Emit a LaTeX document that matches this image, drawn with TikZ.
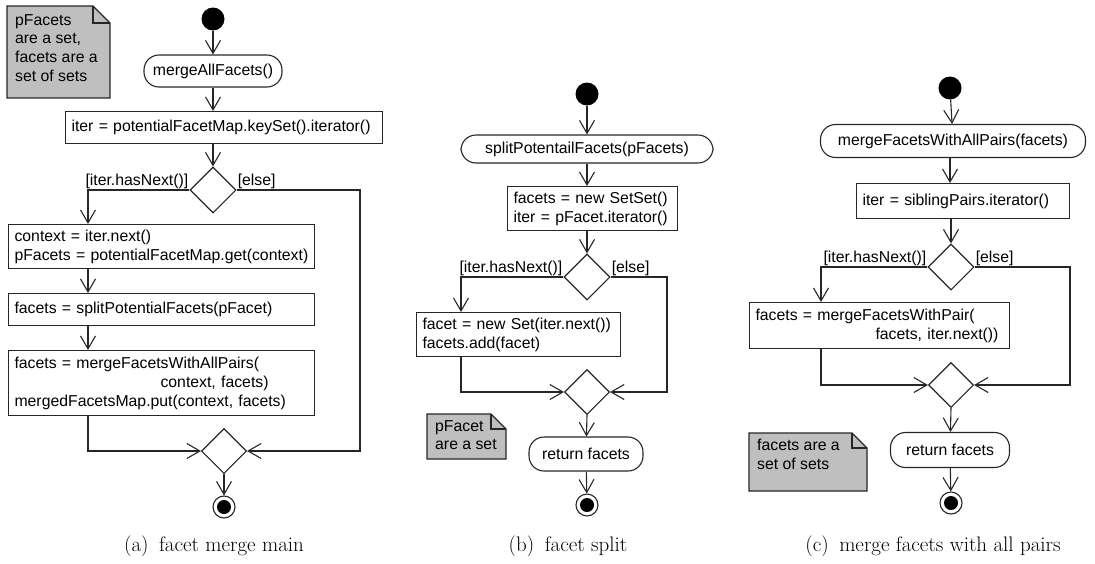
\documentclass[tikz,border=0pt]{standalone}
\usepackage{fontspec}
\newfontfamily\umlfont{Liberation Sans}
\usetikzlibrary{shapes.geometric,arrows.meta}

\begin{document}
\begin{tikzpicture}[x=1pt,y=-1pt,
	every node/.style={font=\umlfont\fontsize{15.8}{19}\selectfont},
	flow/.style={draw=black!85,line width=1.1pt,-{Straight Barb[length=13pt,width=15pt]}},
	box/.style={draw=black!85,line width=1.1pt,rectangle,anchor=north west,inner xsep=6pt,inner ysep=2pt,align=left},
	act/.style={draw=black!85,line width=1.1pt,rectangle,rounded corners=15pt,inner sep=0pt},
	choice/.style={draw=black!85,line width=1.1pt,diamond,minimum width=46pt,minimum height=46pt,inner sep=0pt},
	begin/.style={circle,fill=black,minimum size=23pt,inner sep=0pt},
	finish/.style={circle,draw=black!85,line width=1.1pt,minimum size=22pt,inner sep=0pt,
		path picture={\fill[black] (path picture bounding box.center) circle (7pt);}},
	guard/.style={inner sep=1pt},
	notebg/.style={draw=black!85,line width=1.1pt,fill=gray!50},
	notetext/.style={anchor=north west,align=left,inner sep=0pt,font=\umlfont\fontsize{15.8}{18.7}\selectfont},
	caption/.style={font=\fontsize{21}{24}\selectfont}]
	\useasboundingbox (0,0) rectangle (1095,563);

	% (a) main loop over all contexts
	\draw[notebg] (7,6) -- (93,6) -- (110,23) -- (110,98) -- (7,98) -- cycle;
	\draw[line width=1.1pt,draw=black!85] (93,6) |- (110,23);
	\node[notetext] (note_a) at (15,14) {pFacets\\are a set,\\facets are a\\set of sets};

	\node[begin] (start_a) at (213,19) {};
	\node[act,minimum width=138pt,minimum height=32pt] (act_a) at (213,71) {mergeAllFacets()};
	\node[box,text width=305pt,minimum height=32pt] (iter_a) at (65,111) {iter = potentialFacetMap.keySet().iterator()};
	\node[choice] (dec_a) at (213,190) {};
	\node[box,text width=294pt,minimum height=44pt] (ctx_a) at (8,224) {context = iter.next()\\pFacets = potentialFacetMap.get(context)};
	\node[box,text width=294pt,minimum height=32pt] (split_a) at (8,293) {facets = splitPotentialFacets(pFacet)};
	\node[box,text width=294pt,minimum height=65pt] (mfa_a) at (8,350) {facets = mergeFacetsWithAllPairs(\\\hspace*{146pt}context, facets)\\mergedFacetsMap.put(context, facets)};
	\node[choice,minimum width=45pt,minimum height=45pt] (merge_a) at (224,451) {};
	\node[finish] (end_a) at (224,507) {};
	\node[guard,anchor=south east] (yes_a) at (dec_a.west) {[iter.hasNext()]};
	\node[guard,anchor=south west] (no_a) at (dec_a.east) {[else]};
	\coordinate (la) at (88,0);
	\coordinate (ra) at (360,0);

	\draw[flow] (start_a) -- (act_a);
	\draw[flow] (act_a.south) -- (act_a.south |- iter_a.north);
	\draw[flow] (iter_a.south -| dec_a) -- (dec_a.north);
	\draw[flow] (dec_a.west) -| (la |- ctx_a.north);
	\draw[flow] (la |- ctx_a.south) -- (la |- split_a.north);
	\draw[flow] (la |- split_a.south) -- (la |- mfa_a.north);
	\draw[flow] (la |- mfa_a.south) |- (merge_a.west);
	\draw[flow] (dec_a.east) -| (ra |- merge_a.east) -- (merge_a.east);
	\draw[flow] (merge_a.south) -- (end_a);
	\node[caption] (cap_a) at (214,546) {(a)\enspace facet merge main};

	% (b) splitting the potential facets
	\draw[notebg] (427,414) -- (491,414) -- (506,429) -- (506,459) -- (427,459) -- cycle;
	\draw[line width=1.1pt,draw=black!85] (491,414) |- (506,429);
	\node[notetext] (note_b) at (435,420) {pFacet\\are a set};

	\node[begin] (start_b) at (587,94) {};
	\node[act,minimum width=252pt,minimum height=28pt] (act_b) at (587,149) {splitPotentailFacets(pFacets)};
	\node[box,text width=158pt,minimum height=44pt] (set_b) at (507,186) {facets = new SetSet()\\iter = pFacet.iterator()};
	\node[choice] (dec_b) at (587,277) {};
	\node[box,text width=192pt,minimum height=44pt] (fac_b) at (416,312) {facet = new Set(iter.next())\\facets.add(facet)};
	\node[choice,minimum width=45pt,minimum height=45pt] (merge_b) at (587,392) {};
	\node[act,minimum width=114pt,minimum height=34pt] (ret_b) at (586,454) {return facets};
	\node[finish] (end_b) at (587,505) {};
	\node[guard,anchor=south east] (yes_b) at (dec_b.west) {[iter.hasNext()]};
	\node[guard,anchor=south west] (no_b) at (dec_b.east) {[else]};
	\coordinate (lb) at (461,0);
	\coordinate (rb) at (667,0);

	\draw[flow] (start_b) -- (act_b);
	\draw[flow] (act_b.south) -- (act_b.south |- set_b.north);
	\draw[flow] (set_b.south -| dec_b) -- (dec_b.north);
	\draw[flow] (dec_b.west) -| (lb |- fac_b.north);
	\draw[flow] (lb |- fac_b.south) |- (merge_b.west);
	\draw[flow] (dec_b.east) -| (rb |- merge_b.east) -- (merge_b.east);
	\draw[flow] (merge_b.south) -- (ret_b);
	\draw[flow] (ret_b) -- (end_b);
	\node[caption] (cap_b) at (568,546) {(b)\enspace facet split};

	% (c) merging facets over all sibling pairs
	\draw[notebg] (749,433) -- (852,433) -- (867,448) -- (867,491) -- (749,491) -- cycle;
	\draw[line width=1.1pt,draw=black!85] (852,433) |- (867,448);
	\node[notetext] (note_c) at (757,439) {facets are a\\set of sets};

	\node[begin] (start_c) at (950,88) {};
	\node[act,minimum width=265pt,minimum height=33pt] (act_c) at (953,141) {mergeFacetsWithAllPairs(facets)};
	\node[box,text width=201pt,minimum height=35pt] (iter_c) at (856,183) {iter = siblingPairs.iterator()};
	\node[choice] (dec_c) at (951,267) {};
	\node[box,text width=248pt,minimum height=46pt] (pair_c) at (749,302) {facets = mergeFacetsWithPair(\\\hspace*{120pt}facets, iter.next())};
	\node[choice,minimum width=45pt,minimum height=45pt] (merge_c) at (951,385) {};
	\node[act,minimum width=119pt,minimum height=35pt] (ret_c) at (950,450) {return facets};
	\node[finish] (end_c) at (951,503) {};
	\node[guard,anchor=south east] (yes_c) at (dec_c.west) {[iter.hasNext()]};
	\node[guard,anchor=south west] (no_c) at (dec_c.east) {[else]};
	\coordinate (lc) at (821,0);
	\coordinate (rc) at (1070,0);

	\draw[flow] (start_c) -- (act_c);
	\draw[flow] (act_c.south -| start_c) -- (start_c |- iter_c.north);
	\draw[flow] (iter_c.south -| dec_c) -- (dec_c.north);
	\draw[flow] (dec_c.west) -| (lc |- pair_c.north);
	\draw[flow] (lc |- pair_c.south) |- (merge_c.west);
	\draw[flow] (dec_c.east) -| (rc |- merge_c.east) -- (merge_c.east);
	\draw[flow] (merge_c.south) -- (ret_c);
	\draw[flow] (ret_c) -- (end_c);
	\node[caption] (cap_c) at (933,546) {(c)\enspace merge facets with all pairs};
\end{tikzpicture}
\end{document}
